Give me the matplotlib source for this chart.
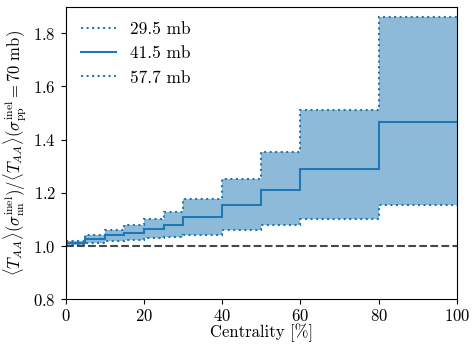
import numpy as np
import matplotlib
matplotlib.use("Agg")
import matplotlib.pyplot as plt

# LaTeX-like look with the bundled Computer Modern fonts
plt.rcParams["font.family"] = "serif"
plt.rcParams["font.serif"] = ["cmr10"]
plt.rcParams["mathtext.fontset"] = "cm"
plt.rcParams["axes.formatter.use_mathtext"] = True
plt.rcParams["font.size"] = 11.5

# centrality bin edges [%]
edges = [0, 5, 10, 15, 20, 25, 30, 40, 50, 60, 80, 100]

# TAA ratio for the three nn cross sections
ratio_295 = [1.020, 1.040, 1.059, 1.079, 1.101, 1.129, 1.178, 1.253, 1.352, 1.510, 1.862]
ratio_415 = [1.010, 1.025, 1.040, 1.050, 1.063, 1.079, 1.109, 1.155, 1.209, 1.290, 1.465]
ratio_577 = [1.004, 1.010, 1.018, 1.024, 1.029, 1.034, 1.040, 1.060, 1.078, 1.103, 1.156]

labels = ["29.5 mb", "41.5 mb", "57.7 mb"]
col = "#1f77b4"

fig = plt.figure(figsize=(4.73, 3.44), dpi=100)
ax = fig.add_axes([0.139, 0.13, 0.827, 0.851])

ax.stairs(ratio_295, edges, baseline=ratio_577, fill=True, color=col, alpha=0.5, lw=0)
ax.stairs(ratio_295, edges, baseline=None, color=col, ls=":", lw=1.5, label=labels[0])
ax.stairs(ratio_415, edges, baseline=None, color=col, ls="-", lw=1.5, label=labels[1])
ax.stairs(ratio_577, edges, baseline=None, color=col, ls=":", lw=1.5, label=labels[2])

ax.axhline(1.0, color="#333333", ls="--", lw=1.5, alpha=0.9)

ax.set_xlim(0, 100)
ax.set_ylim(0.8, 1.9)
ax.set_yticks([0.8, 1.0, 1.2, 1.4, 1.6, 1.8])
ax.tick_params(labelsize=12)
ax.tick_params(axis="x", pad=2.5)
ax.set_xlabel(r"Centrality [%]", fontsize=12, labelpad=0)
ax.set_ylabel(r"$\langle T_{AA}\rangle(\sigma^{\rm inel}_{\rm nn})/\langle T_{AA}\rangle(\sigma^{\rm inel}_{\rm pp}=70\ {\rm mb})$",
              fontsize=12, labelpad=3)

ax.legend(loc="upper left", frameon=False, fontsize=12.5, labelspacing=0.5,
          borderaxespad=0.5, handlelength=2.0)

fig.savefig("out.png", dpi=100)
